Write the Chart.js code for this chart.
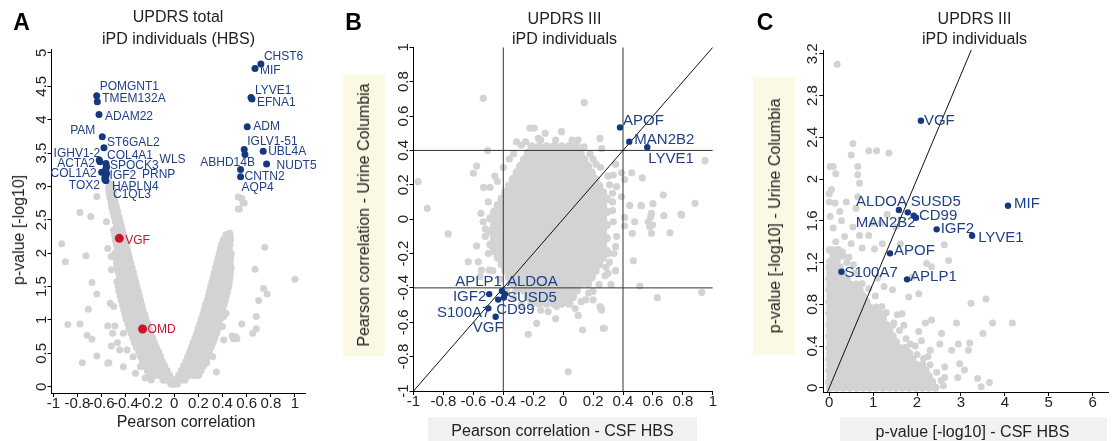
<!DOCTYPE html>
<html>
<head>
<meta charset="utf-8">
<script src="https://cdn.jsdelivr.net/npm/chart.js"></script>
<style>
  html, body { margin: 0; padding: 0; background: #fff; }
  #wrap { position: relative; width: 1112px; height: 441px; overflow: hidden;
          font-family: "Liberation Sans", Arial, sans-serif; color: #222; }
  canvas { position: absolute; top: 0; }
  .t { position: absolute; transform: translate(-50%, -50%); white-space: nowrap; line-height: 1; font-size: 16px; }
  .rot { transform: translate(-50%, -50%) rotate(-90deg); }
  .letter { font-weight: bold; font-size: 23px; color: #000; }
  .box { position: absolute; }
</style>
</head>
<body>
<div id="wrap">
  <!-- axis title boxes -->
  <div class="box" style="left:343px;top:75px;width:42px;height:281px;background:#fbf8e3"></div>
  <div class="box" style="left:428px;top:417px;width:269px;height:24px;background:#f1f1ef"></div>
  <div class="box" style="left:753px;top:77px;width:42px;height:278px;background:#fbf8e3"></div>
  <div class="box" style="left:840px;top:417px;width:267px;height:24px;background:#f1f1ef"></div>

  <canvas id="cA" width="330" height="441" style="left:0"></canvas>
  <canvas id="cB" width="410" height="441" style="left:330px"></canvas>
  <canvas id="cC" width="372" height="441" style="left:740px"></canvas>

  <div class="t letter" style="left:21.5px;top:21.5px">A</div>
  <div class="t" style="left:178px;top:17px">UPDRS total</div>
  <div class="t" style="left:178.5px;top:38.5px">iPD individuals (HBS)</div>
  <div class="t" style="left:186px;top:422px">Pearson correlation</div>
  <div class="t rot" style="left:19px;top:230px">p-value [-log10]</div>

  <div class="t letter" style="left:353.5px;top:21.5px">B</div>
  <div class="t" style="left:564.5px;top:18.5px">UPDRS III</div>
  <div class="t" style="left:564.5px;top:38.5px">iPD individuals</div>
  <div class="t rot" style="left:364px;top:215px">Pearson correlation - Urine Columbia</div>
  <div class="t" style="left:562.5px;top:431px">Pearson correlation - CSF HBS</div>

  <div class="t letter" style="left:765px;top:21.5px">C</div>
  <div class="t" style="left:974.5px;top:18.5px">UPDRS III</div>
  <div class="t" style="left:974.5px;top:38.5px">iPD individuals</div>
  <div class="t rot" style="left:775px;top:216px">p-value [-log10] - Urine Columbia</div>
  <div class="t" style="left:972.5px;top:432px">p-value [-log10] - CSF HBS</div>
</div>

<script>
// ---------- panel A: volcano (Pearson r vs -log10 p) ----------
const ticksAx = [-1, -0.8, -0.6, -0.4, -0.2, 0, 0.2, 0.4, 0.6, 0.8, 1];
const ticksAy = [0, 0.5, 1, 1.5, 2, 2.5, 3, 3.5, 4, 4.5, 5];

// dense band rows: first value is y, the rest are x
const bandRowsA = [
  [0.04, 0, -0.025, 0.025],
  [0.1, -0.03, -0.06, -0.09, 0, 0.03, 0.06, 0.09],
  [0.17, -0.04, -0.08, -0.12, -0.16, -0.2, 0.04, 0.08, 0.12, 0.16, 0.2],
  [0.24, -0.06, -0.1, -0.14, -0.18, -0.22, 0.06, 0.1, 0.14, 0.18, 0.22],
  [0.31, -0.08, -0.12, -0.16, -0.2, -0.24, 0.08, 0.12, 0.16, 0.2, 0.24],
  [0.38, -0.1, -0.14, -0.18, -0.22, -0.26, 0.1, 0.14, 0.18, 0.22, 0.26],
  [0.45, -0.115, -0.155, -0.195, -0.235, -0.275, 0.115, 0.155, 0.195, 0.235, 0.275],
  [0.52, -0.13, -0.17, -0.21, -0.25, -0.29, 0.13, 0.17, 0.21, 0.25, 0.29],
  [0.59, -0.15, -0.19, -0.23, -0.27, -0.31, 0.145, 0.185, 0.225, 0.265, 0.305],
  [0.66, -0.165, -0.205, -0.245, -0.285, -0.325, 0.16, 0.2, 0.24, 0.28, 0.32],
  [0.73, -0.18, -0.22, -0.26, -0.3, -0.34, 0.175, 0.215, 0.255, 0.295, 0.335],
  [0.8, -0.195, -0.235, -0.275, -0.315, -0.355, 0.19, 0.23, 0.27, 0.31, 0.35],
  [0.87, -0.21, -0.25, -0.29, -0.33, -0.37, 0.2, 0.24, 0.28, 0.32, 0.36],
  [0.94, -0.22, -0.26, -0.3, -0.34, -0.38, 0.215, 0.255, 0.295, 0.335, 0.37],
  [1.01, -0.235, -0.275, -0.315, -0.355, -0.395, 0.225, 0.265, 0.305, 0.345, 0.38],
  [1.08, -0.245, -0.285, -0.325, -0.365, -0.405, 0.24, 0.28, 0.32, 0.36, 0.39],
  [1.15, -0.26, -0.3, -0.34, -0.38, -0.415, 0.25, 0.29, 0.33, 0.37, 0.4],
  [1.22, -0.27, -0.31, -0.35, -0.39, -0.425, 0.26, 0.3, 0.34, 0.38, 0.41],
  [1.29, -0.28, -0.32, -0.36, -0.4, -0.435, 0.275, 0.315, 0.355, 0.39, 0.42],
  [1.36, -0.29, -0.33, -0.37, -0.41, -0.445, 0.285, 0.325, 0.365, 0.4, 0.43],
  [1.43, -0.3, -0.34, -0.38, -0.42, -0.455, 0.295, 0.335, 0.375, 0.41, 0.44],
  [1.5, -0.31, -0.35, -0.39, -0.43, -0.46, 0.305, 0.345, 0.385, 0.42, 0.45],
  [1.57, -0.32, -0.36, -0.4, -0.44, -0.47, 0.315, 0.355, 0.395, 0.43, 0.455],
  [1.64, -0.33, -0.37, -0.41, -0.45, 0.325, 0.365, 0.405, 0.44, 0.46],
  [1.71, -0.34, -0.38, -0.42, -0.46, 0.335, 0.375, 0.415, 0.45, 0.465],
  [1.78, -0.35, -0.39, -0.43, -0.47, 0.345, 0.385, 0.425, 0.455, 0.47],
  [1.85, -0.36, -0.4, -0.44, -0.475, 0.355, 0.395, 0.43, 0.46],
  [1.92, -0.37, -0.41, -0.45, -0.48, 0.365, 0.405, 0.44, 0.465],
  [1.99, -0.38, -0.42, -0.46, -0.49, 0.375, 0.41, 0.445, 0.47],
  [2.06, -0.39, -0.43, -0.465, 0.385, 0.42, 0.455],
  [2.13, -0.4, -0.44, -0.475, 0.395, 0.43, 0.46],
  [2.2, -0.41, -0.45, -0.485, 0.41, 0.44, 0.465],
  [2.27, -0.42, -0.455, -0.49, 0.43, 0.46],
  [2.34, -0.43, -0.465, -0.5],
  [2.41, -0.44, -0.475],
  [2.48, -0.45, -0.485],
  [2.55, -0.46, -0.495],
  [2.62, -0.47, -0.505],
  [2.69, -0.48, -0.515],
  [2.76, -0.49, -0.52],
  [2.83, -0.5, -0.53],
  [2.9, -0.505, -0.535],
  [2.97, -0.515, -0.54],
  [3.04, -0.525]
];

const scatterA = [
  [-0.78, 2.61], [-0.69, 2.55], [-0.64, 2.85], [-0.56, 2.47], [-0.93, 2.14], [-0.9, 1.87],
  [-0.73, 1.96], [-0.55, 2.07], [-0.52, 1.95], [-0.68, 1.56], [-0.52, 1.75], [-0.64, 1.39],
  [-0.53, 1.25], [-0.5, 1.2], [-0.71, 1.16], [-0.88, 0.93], [-0.78, 0.94], [-0.72, 0.77],
  [-0.68, 0.71], [-0.55, 0.91], [-0.49, 0.91], [-0.51, 0.8], [-0.52, 0.61], [-0.64, 0.46],
  [-0.54, 0.36], [-0.76, 0.36], [-0.39, 0.55], [-0.37, 0.9], [-0.38, 1.1], [-0.45, 1.47],
  [-0.44, 1.62], [-0.34, 0.45], [-0.24, 0.13], [-0.19, 0.1], [-0.32, 0.2], [-0.28, 0.3],
  [-0.42, 0.3], [-0.55, 0.35], [-0.47, 0.66], [-0.45, 0.55], [-0.42, 0.8],
  [1.0, 1.61], [0.75, 2.09], [0.67, 1.76], [0.74, 1.47], [0.77, 1.39], [0.7, 1.29],
  [0.68, 1.05], [0.68, 0.87], [0.56, 0.94], [0.65, 0.8], [0.48, 0.76], [0.51, 0.75],
  [0.41, 0.7], [0.49, 0.72], [0.52, 0.72], [0.35, 0.22], [0.27, 0.36], [0.32, 0.45],
  [0.4, 0.9], [0.41, 1.05], [0.38, 1.35], [0.43, 1.1], [0.46, 2.3], [0.56, 2.82],
  [0.53, 2.66], [0.58, 2.75], [0.53, 2.84], [0.57, 2.75], [0.54, 2.66]
];

const hitNamesA = ['CHST6', 'MIF', 'LYVE1', 'EFNA1', 'ADM', 'IGLV1-51', 'ABHD14B', 'UBL4A', 'NUDT5',
  'AQP4', 'CNTN2', 'POMGNT1', 'TMEM132A', 'ADAM22', 'PAM', 'ST6GAL2', 'IGHV1-2', 'COL4A1', 'WLS',
  'ACTA2', 'SPOCK3', 'COL1A2', 'IGF2', 'PRNP', 'TOX2', 'HAPLN4', 'C1QL3'];
const hitXA = [0.718, 0.669, 0.636, 0.644, 0.605, 0.58, 0.586, 0.737, 0.765, 0.55, 0.55,
  -0.641, -0.636, -0.622, -0.595, -0.581, -0.62, -0.564, -0.559, -0.614, -0.564, -0.6, -0.559,
  -0.564, -0.573, -0.573, -0.564];
const hitYA = [4.831, 4.766, 4.332, 4.307, 3.892, 3.554, 3.479, 3.528, 3.334, 3.254, 3.144,
  4.356, 4.266, 4.078, 3.743, 3.578, 3.394, 3.344, 3.293, 3.368, 3.27, 3.21, 3.195,
  3.159, 3.105, 3.135, 3.084];
const redNamesA = ['VGF', 'OMD'];
const redXA = [-0.454, -0.261];
const redYA = [2.222, 0.864];

// label placement (pixels from the point): dx, dy, side
const hitOffsetsA = [[3, -7, 'l'], [5, 2, 'l'], [4, -7, 'l'], [5, 4, 'l'], [6, 0, 'l'], [3, -8, 'l'],
  [10, 8, 'r'], [5, 1, 'l'], [10, 2, 'l'], [1, 18, 'l'], [4, 0, 'l'], [3, -9, 'l'], [5, -3, 'l'],
  [6, 2, 'l'], [-7, -6, 'r'], [3, -5, 'l'], [1, -6, 'r'], [1, -8, 'l'], [53, -7, 'l'], [-5, 2, 'r'],
  [4, -3, 'l'], [-5, 1, 'r'], [3, 2, 'l'], [36, -1, 'l'], [-5, 6, 'r'], [7, 9, 'l'], [7, 14, 'l']];
const redOffsetsA = [[6, 2, 'l'], [5, 1, 'l']];

// ---------- panel B: urine vs CSF Pearson r ----------
const ticksB = [-1, -0.8, -0.6, -0.4, -0.2, 0, 0.2, 0.4, 0.6, 0.8, 1];
const cutsB = [-0.4, 0.4];

const coreRowsB = [
  [0.422, -0.21, -0.16, -0.11, -0.06, -0.01, 0.04, 0.09],
  [0.384, -0.235, -0.185, -0.135, -0.085, -0.035, 0.015, 0.065, 0.115],
  [0.346, -0.26, -0.21, -0.16, -0.11, -0.06, -0.01, 0.04, 0.09, 0.14],
  [0.308, -0.285, -0.235, -0.185, -0.135, -0.085, -0.035, 0.015, 0.065, 0.115, 0.165],
  [0.27, -0.31, -0.26, -0.21, -0.16, -0.11, -0.06, -0.01, 0.04, 0.09, 0.14, 0.19],
  [0.232, -0.335, -0.285, -0.235, -0.185, -0.135, -0.085, -0.035, 0.015, 0.065, 0.115, 0.165, 0.215],
  [0.194, -0.36, -0.31, -0.26, -0.21, -0.16, -0.11, -0.06, -0.01, 0.04, 0.09, 0.14, 0.19, 0.24],
  [0.156, -0.385, -0.335, -0.285, -0.235, -0.185, -0.135, -0.085, -0.035, 0.015, 0.065, 0.115, 0.165, 0.215, 0.265],
  [0.118, -0.41, -0.36, -0.31, -0.26, -0.21, -0.16, -0.11, -0.06, -0.01, 0.04, 0.09, 0.14, 0.19, 0.24, 0.29],
  [0.08, -0.435, -0.385, -0.335, -0.285, -0.235, -0.185, -0.135, -0.085, -0.035, 0.015, 0.065, 0.115, 0.165, 0.215, 0.265],
  [0.042, -0.46, -0.41, -0.36, -0.31, -0.26, -0.21, -0.16, -0.11, -0.06, -0.01, 0.04, 0.09, 0.14, 0.19, 0.24, 0.29],
  [0.004, -0.485, -0.435, -0.385, -0.335, -0.285, -0.235, -0.185, -0.135, -0.085, -0.035, 0.015, 0.065, 0.115, 0.165, 0.215, 0.265],
  [-0.034, -0.46, -0.41, -0.36, -0.31, -0.26, -0.21, -0.16, -0.11, -0.06, -0.01, 0.04, 0.09, 0.14, 0.19, 0.24, 0.29],
  [-0.072, -0.485, -0.435, -0.385, -0.335, -0.285, -0.235, -0.185, -0.135, -0.085, -0.035, 0.015, 0.065, 0.115, 0.165, 0.215, 0.265],
  [-0.11, -0.46, -0.41, -0.36, -0.31, -0.26, -0.21, -0.16, -0.11, -0.06, -0.01, 0.04, 0.09, 0.14, 0.19, 0.24, 0.29],
  [-0.148, -0.485, -0.435, -0.385, -0.335, -0.285, -0.235, -0.185, -0.135, -0.085, -0.035, 0.015, 0.065, 0.115, 0.165, 0.215, 0.265],
  [-0.186, -0.46, -0.41, -0.36, -0.31, -0.26, -0.21, -0.16, -0.11, -0.06, -0.01, 0.04, 0.09, 0.14, 0.19, 0.24, 0.29],
  [-0.224, -0.435, -0.385, -0.335, -0.285, -0.235, -0.185, -0.135, -0.085, -0.035, 0.015, 0.065, 0.115, 0.165, 0.215, 0.265],
  [-0.262, -0.41, -0.36, -0.31, -0.26, -0.21, -0.16, -0.11, -0.06, -0.01, 0.04, 0.09, 0.14, 0.19, 0.24],
  [-0.3, -0.385, -0.335, -0.285, -0.235, -0.185, -0.135, -0.085, -0.035, 0.015, 0.065, 0.115, 0.165, 0.215],
  [-0.338, -0.36, -0.31, -0.26, -0.21, -0.16, -0.11, -0.06, -0.01, 0.04, 0.09, 0.14, 0.19],
  [-0.376, -0.335, -0.285, -0.235, -0.185, -0.135, -0.085, -0.035, 0.015, 0.065, 0.115, 0.165],
  [-0.414, -0.31, -0.26, -0.21, -0.16, -0.11, -0.06, -0.01, 0.04, 0.09],
  [-0.452, -0.235, -0.185, -0.135, -0.085, -0.035, 0.015, 0.065],
  [-0.49, -0.21, -0.16, -0.11, -0.06, -0.01, 0.04]
];

const scatterB = [
  [-0.534, 0.703], [0.141, 0.678], [-0.222, 0.53], [-0.193, 0.53], [-0.01, 0.509], [0.246, 0.47],
  [-0.166, 0.47], [-0.311, 0.45], [0.034, 0.42], [0.078, 0.42], [0.257, 0.41], [-0.505, 0.4],
  [-0.578, 0.309], [-0.6, 0.267], [-0.969, 0.218], [-0.456, 0.25], [-0.532, 0.185], [-0.488, 0.185],
  [-0.908, 0.063], [-0.768, -0.086], [-0.55, 0.034], [-0.534, -0.015], [-0.519, -0.057],
  [-0.578, -0.156], [-0.634, -0.248], [-0.567, -0.248], [-0.545, -0.296], [-0.494, -0.296],
  [-0.555, -0.335], [0.335, 0.257], [0.357, 0.19], [0.39, 0.27], [0.41, 0.23], [0.458, 0.27],
  [0.529, 0.24], [0.669, 0.14], [0.881, 0.092], [0.787, 0.03], [0.673, 0.02], [0.59, 0.034],
  [0.568, -0.015], [0.579, -0.044], [0.59, -0.082], [0.523, 0.078], [0.445, 0.08], [0.478, -0.015],
  [0.714, -0.079], [0.948, 0.34], [0.39, 0.13], [0.41, 0.01], [0.41, -0.04], [0.335, -0.015],
  [0.357, -0.1], [0.462, -0.082], [0.469, -0.242], [0.3, -0.2], [0.3, -0.315], [0.513, -0.389],
  [0.629, -0.457], [0.926, -0.426], [0.246, -0.509], [0.257, -0.529], [0.275, -0.635], [0.13, -0.645],
  [0.034, -0.888], [-0.177, -0.606], [-0.233, -0.67], [-0.1, -0.538], [-0.044, -0.509], [0.15, -0.47],
  [0.17, -0.43], [0.286, -0.28], [0.792, 0.024], [0.52, 0.08], [0.6, 0.09], [0.585, 0.014],
  [0.598, -0.034], [0.268, -0.636], [0.255, -0.52], [0.35, 0.32], [0.33, 0.05], [0.2, -0.47],
  [0.1, -0.56], [-0.05, -0.58], [0.35, -0.3], [0.32, -0.38], [0.35, -0.16], [-0.05, 0.46],
  [0.1, 0.46], [-0.15, 0.46], [0.2, 0.35], [0.25, 0.3], [0.31, 0.2],
  // ragged rim of the cloud
  [-0.33, 0.38], [-0.28, 0.43], [-0.4, 0.3], [-0.44, 0.22], [-0.5, 0.1], [-0.52, -0.1],
  [-0.5, -0.2], [-0.47, -0.3], [-0.42, -0.35], [-0.38, -0.42], [-0.33, -0.46], [-0.28, -0.5],
  [-0.15, -0.53], [0.08, -0.52], [0.12, -0.48], [0.2, -0.42], [0.24, -0.38], [0.28, -0.33],
  [0.31, -0.25], [0.34, -0.2], [0.33, 0.1], [0.33, 0.15], [0.3, 0.25], [0.22, 0.32],
  [0.18, 0.38], [0.14, 0.42], [0.06, 0.46], [-0.12, 0.5], [-0.25, 0.45], [-0.36, 0.35]
];

const hitNamesB = ['APOF', 'MAN2B2', 'LYVE1', 'IGF2', 'APLP1', 'ALDOA', 'SUSD5', 'CD99', 'S100A7', 'VGF'];
const hitXB = [0.38, 0.442, 0.562, -0.494, -0.409, -0.389, -0.396, -0.434, -0.5, -0.451];
const hitYB = [0.534, 0.451, 0.418, -0.436, -0.418, -0.436, -0.456, -0.468, -0.519, -0.568];
const hitOffsetsB = [[3, -7, 'l'], [5, -2, 'l'], [1, 12, 'l'], [-3, 3, 'r'], [0, -9.5, 'r'],
  [2, -12.5, 'l'], [3, 0, 'l'], [-2, 10.5, 'l'], [2, 5, 'r'], [8, 11, 'r']];

// ---------- panel C: urine vs CSF -log10 p ----------
const ticksCx = [0, 1, 2, 3, 4, 5, 6];
const ticksCy = [0, 0.4, 0.8, 1.2, 1.6, 2, 2.4, 2.8, 3.2];

const coreRowsC = [
  [0, 0.02, 0.17, 0.32, 0.47, 0.62, 0.77, 0.92, 1.07, 1.22, 1.37, 1.52, 1.67, 1.82, 1.97, 2.12, 2.27, 2.42],
  [0.055, 0, 0.095, 0.245, 0.395, 0.545, 0.695, 0.845, 0.995, 1.145, 1.295, 1.445, 1.595, 1.745, 1.895, 2.045, 2.195, 2.345],
  [0.11, 0.02, 0.17, 0.32, 0.47, 0.62, 0.77, 0.92, 1.07, 1.22, 1.37, 1.52, 1.67, 1.82, 1.97, 2.12, 2.27],
  [0.165, 0, 0.095, 0.245, 0.395, 0.545, 0.695, 0.845, 0.995, 1.145, 1.295, 1.445, 1.595, 1.745, 1.895, 2.045, 2.195],
  [0.22, 0.02, 0.17, 0.32, 0.47, 0.62, 0.77, 0.92, 1.07, 1.22, 1.37, 1.52, 1.67, 1.82, 1.97, 2.12],
  [0.275, 0, 0.095, 0.245, 0.395, 0.545, 0.695, 0.845, 0.995, 1.145, 1.295, 1.445, 1.595, 1.745, 1.895],
  [0.33, 0.02, 0.17, 0.32, 0.47, 0.62, 0.77, 0.92, 1.07, 1.22, 1.37, 1.52, 1.67, 1.82],
  [0.385, 0, 0.095, 0.245, 0.395, 0.545, 0.695, 0.845, 0.995, 1.145, 1.295, 1.445, 1.595, 1.745],
  [0.44, 0.02, 0.17, 0.32, 0.47, 0.62, 0.77, 0.92, 1.07, 1.22, 1.37, 1.52],
  [0.495, 0, 0.095, 0.245, 0.395, 0.545, 0.695, 0.845, 0.995, 1.145, 1.295, 1.445],
  [0.55, 0.02, 0.17, 0.32, 0.47, 0.62, 0.77, 0.92, 1.07, 1.22, 1.37],
  [0.605, 0, 0.095, 0.245, 0.395, 0.545, 0.695, 0.845, 0.995, 1.145, 1.295],
  [0.66, 0.02, 0.17, 0.32, 0.47, 0.62, 0.77, 0.92, 1.07, 1.22],
  [0.715, 0, 0.095, 0.245, 0.395, 0.545, 0.695, 0.845, 0.995, 1.145],
  [0.77, 0.02, 0.17, 0.32, 0.47, 0.62, 0.77, 0.92, 1.07],
  [0.825, 0, 0.095, 0.245, 0.395, 0.545, 0.695, 0.845],
  [0.88, 0.02, 0.17, 0.32, 0.47, 0.62, 0.77],
  [0.935, 0, 0.095, 0.245, 0.395, 0.545, 0.695],
  [0.99, 0.02, 0.17, 0.32, 0.47, 0.62],
  [1.045, 0, 0.095, 0.245, 0.395],
  [1.1, 0.02, 0.17, 0.32],
  [1.155, 0, 0.095, 0.245],
  [1.21, 0.02, 0.17],
  [1.265, 0.095, 0.3],
  [1.32, 0.02, 0.2]
];

const scatterC = [
  [0.18, 3.1], [0.54, 2.34], [0.5, 2.23], [0.9, 2.27], [1.08, 2.27], [1.36, 2.25], [0.02, 2.12],
  [0.09, 2.12], [0.15, 2.05], [0.65, 2.12], [0.65, 2.04], [0.69, 1.96], [0, 1.86], [0, 1.78],
  [0.13, 1.77], [0.39, 1.78], [0.65, 1.83], [0.61, 1.72], [0.28, 1.6], [0.02, 1.64], [0.09, 1.53],
  [0.99, 1.58], [1.18, 1.58], [1.32, 1.66], [0.54, 1.54], [0.69, 1.46], [0.75, 1.34], [0.9, 1.46],
  [1.03, 1.33], [1.21, 1.38], [1.51, 1.54], [1.62, 1.38], [2.62, 1.37], [2.72, 1.22], [2.33, 1.16],
  [2.22, 1.19], [1.89, 1.06], [1.25, 0.97], [1.44, 0.94], [1.81, 0.87], [2.04, 0.9], [1.66, 0.71],
  [2.19, 0.62], [1.47, 0.62], [2.04, 0.54], [2.33, 0.65], [2.56, 0.52], [2.9, 0.62], [3.23, 0.81],
  [3.57, 0.85], [3.72, 0.62], [4.17, 0.62], [3.5, 0.52], [3.2, 0.43], [3.17, 0.36], [2.94, 0.42],
  [2.79, 0.36], [2.52, 0.42], [2.3, 0.36], [1.96, 0.4], [3.08, 0.17], [3.38, 0.09], [2.97, 0.23],
  [2.63, 0.2], [3.46, 0.01], [3.65, 0.05], [2.63, 0.1], [2.93, 0.1], [0.3, 1.3], [0.45, 1.25],
  [0.15, 1.4], [0.35, 1.45], [0.5, 1.38], [0.1, 1.32], [0.05, 1.9], [0.24, 1.69],
  // ragged rim of the cloud
  [0.6, 1.1], [0.75, 1.0], [0.9, 0.95], [1.05, 0.88], [1.2, 0.78], [1.3, 0.72], [1.45, 0.6],
  [1.6, 0.55], [1.75, 0.47], [1.85, 0.42], [2.0, 0.32], [2.15, 0.28], [2.3, 0.22], [2.45, 0.15],
  [2.55, 0.07], [2.6, 0.02], [1.1, 1.05], [0.4, 1.2], [0.55, 1.18], [1.55, 0.7], [1.7, 0.6],
  [2.1, 0.45], [2.25, 0.3], [0.2, 1.25]
];

const hitNamesC = ['VGF', 'MIF', 'ALDOA', 'SUSD5', 'MAN2B2', 'CD99', 'IGF2', 'LYVE1', 'APOF', 'S100A7', 'APLP1'];
const hitXC = [2.088, 4.072, 1.587, 1.789, 1.924, 1.975, 2.447, 3.255, 1.385, 0.278, 1.773];
const hitYC = [2.558, 1.744, 1.703, 1.681, 1.648, 1.629, 1.518, 1.457, 1.288, 1.112, 1.039];
const hitOffsetsC = [[3, 0, 'l'], [6, -2, 'l'], [8, -8, 'r'], [3, -10, 'l'], [2, 7, 'r'], [3, -2, 'l'],
  [4, 0, 'l'], [6, 2, 'l'], [4, -3, 'l'], [3, 1, 'l'], [3, -2, 'l']];

// ---------- helpers ----------
const FONT = '"Liberation Sans", Arial, sans-serif';
const GREY = '#d3d3d3', NAVY = '#15397f', RED = '#c8142c', INK = '#222';
Chart.defaults.font.family = FONT;

const rowsToPoints = rows => rows.flatMap(r => r.slice(1).map(x => ({x: x, y: r[0]})));
const pairsToPoints = p => p.map(([x, y]) => ({x: x, y: y}));
const zipPoints = (xs, ys) => xs.map((x, i) => ({x: x, y: ys[i]}));
const fmt = v => String(Math.round(v * 10) / 10);

function labelPlugin(sets) {
  return {
    id: 'pointLabels',
    afterDatasetsDraw(chart) {
      const {x, y} = chart.scales;
      const ctx = chart.ctx;
      sets.forEach(set => {
        ctx.save();
        ctx.font = set.size + 'px ' + FONT;
        ctx.fillStyle = set.color;
        ctx.textBaseline = 'middle';
        set.names.forEach((name, i) => {
          const [dx, dy, side] = set.offsets[i];
          ctx.textAlign = side === 'r' ? 'right' : 'left';
          ctx.fillText(name, x.getPixelForValue(set.xs[i]) + dx, y.getPixelForValue(set.ys[i]) + dy);
        });
        ctx.restore();
      });
    }
  };
}

// lines drawn right after the grey cloud (datasets 0 and 1)
function linePlugin(lines) {
  return {
    id: 'refLines',
    afterDatasetDraw(chart, args) {
      if (args.index !== 1) return;
      const {x, y} = chart.scales;
      const a = chart.chartArea;
      const ctx = chart.ctx;
      ctx.save();
      ctx.beginPath();
      ctx.rect(a.left, a.top, a.right - a.left, a.bottom - a.top);
      ctx.clip();
      lines.forEach(l => {
        ctx.strokeStyle = l.color;
        ctx.lineWidth = 1;
        ctx.beginPath();
        ctx.moveTo(x.getPixelForValue(l.x0), y.getPixelForValue(l.y0));
        ctx.lineTo(x.getPixelForValue(l.x1), y.getPixelForValue(l.y1));
        ctx.stroke();
      });
      ctx.restore();
    }
  };
}

// R style: y tick labels read bottom to top
const yTickPlugin = {
  id: 'rotatedYTicks',
  afterDraw(chart) {
    const s = chart.scales.y;
    const ctx = chart.ctx;
    ctx.save();
    ctx.font = '15px ' + FONT;
    ctx.fillStyle = INK;
    ctx.textAlign = 'center';
    ctx.textBaseline = 'alphabetic';
    s.ticks.forEach(t => {
      ctx.save();
      ctx.translate(chart.chartArea.left - 6, s.getPixelForValue(t.value));
      ctx.rotate(-Math.PI / 2);
      ctx.fillText(fmt(t.value), 0, 0);
      ctx.restore();
    });
    ctx.restore();
  }
};

function axis(min, max, ticks, isY) {
  return {
    type: 'linear', min: min, max: max,
    afterBuildTicks: s => { s.ticks = ticks.map(v => ({value: v})); },
    afterFit: s => { if (isY) s.width = 20; else s.height = 40; },
    grid: {drawOnChartArea: false, drawTicks: true, tickLength: 4, color: '#000', lineWidth: 1},
    border: {display: true, color: '#000', width: 1},
    ticks: {display: !isY, autoSkip: false, maxRotation: 0, minRotation: 0, padding: -2,
      color: INK, font: {family: FONT, size: 15}, callback: v => fmt(v)}
  };
}

function dots(data, color, r, order) {
  return {data: data, backgroundColor: color, borderColor: color, pointRadius: r,
    pointBorderWidth: 0, pointHoverRadius: r, order: order, clip: false};
}

function makeChart(id, pad, scales, datasets, plugins) {
  return new Chart(document.getElementById(id), {
    type: 'scatter',
    data: {datasets: datasets},
    options: {
      responsive: false, animation: false, events: [],
      layout: {padding: pad},
      plugins: {legend: {display: false}, tooltip: {enabled: false}},
      scales: scales
    },
    plugins: plugins
  });
}

// ---------- charts ----------
makeChart('cA', {left: 31.5, right: 25, top: 49.5, bottom: 8},
  {x: axis(-1.015, 1.083, ticksAx, false), y: axis(-0.094, 5.05, ticksAy, true)},
  [
    dots(rowsToPoints(bandRowsA), GREY, 3.8, 4),
    dots(pairsToPoints(scatterA), GREY, 3.5, 3),
    dots(zipPoints(hitXA, hitYA), NAVY, 3.5, 2),
    dots(zipPoints(redXA, redYA), RED, 4.5, 1)
  ],
  [yTickPlugin, labelPlugin([
    {names: hitNamesA, xs: hitXA, ys: hitYA, offsets: hitOffsetsA, color: '#1f3f87', size: 12},
    {names: redNamesA, xs: redXA, ys: redYA, offsets: redOffsetsA, color: RED, size: 12}
  ])]);

makeChart('cB', {left: 63.5, right: 27.2, top: 47.3, bottom: 10},
  {x: axis(-1, 1, ticksB, false), y: axis(-1, 1, ticksB, true)},
  [
    dots(rowsToPoints(coreRowsB), GREY, 4.4, 3),
    dots(pairsToPoints(scatterB), GREY, 3.6, 2),
    dots(zipPoints(hitXB, hitYB), NAVY, 3.2, 1)
  ],
  [yTickPlugin,
   linePlugin([
     {x0: cutsB[0], y0: -1, x1: cutsB[0], y1: 1, color: '#333'},
     {x0: cutsB[1], y0: -1, x1: cutsB[1], y1: 1, color: '#333'},
     {x0: -1, y0: cutsB[0], x1: 1, y1: cutsB[0], color: '#333'},
     {x0: -1, y0: cutsB[1], x1: 1, y1: cutsB[1], color: '#333'},
     {x0: -1, y0: -1, x1: 1, y1: 1, color: '#111'}
   ]),
   labelPlugin([{names: hitNamesB, xs: hitXB, ys: hitYB, offsets: hitOffsetsB, color: '#1f3f87', size: 15}])]);

makeChart('cC', {left: 63.3, right: 0, top: 50, bottom: 9},
  {x: axis(-0.135, 6.35, ticksCx, false), y: axis(-0.04, 3.236, ticksCy, true)},
  [
    dots(rowsToPoints(coreRowsC), GREY, 4.0, 3),
    dots(pairsToPoints(scatterC), GREY, 3.5, 2),
    dots(zipPoints(hitXC, hitYC), NAVY, 3.2, 1)
  ],
  [yTickPlugin,
   linePlugin([{x0: -0.04, y0: -0.04, x1: 3.24, y1: 3.24, color: '#111'}]),
   labelPlugin([{names: hitNamesC, xs: hitXC, ys: hitYC, offsets: hitOffsetsC, color: '#1f3f87', size: 15}])]);
</script>
</body>
</html>
